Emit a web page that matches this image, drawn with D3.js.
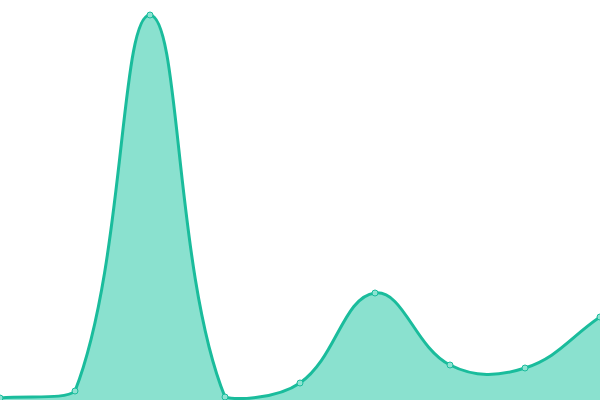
<!DOCTYPE html>
<html>
<head>
<meta charset="utf-8">
<script src="https://cdn.jsdelivr.net/npm/d3@7"></script>
<style>
  body { margin: 0; background: #fff; }
  svg { display: block; }
</style>
</head>
<body>
<div id="chart"></div>
<script>
// data
let labels = ["1", "2", "3", "4", "5", "6", "7", "8", "9"];
let values = [2, 9, 385, 3, 17, 107, 35, 32, 83];

let width = 600,
    height = 400;

let svg = d3.select("#chart")
    .append("svg")
    .attr("width", width)
    .attr("height", height);

// x: points spread edge to edge
let x = d3.scalePoint()
    .domain(labels)
    .range([0, width]);

let y = d3.scaleLinear()
    .domain([0, 400])
    .range([height, 0]);

let pts = labels.map((l, i) => [x(l), y(values[i])]);

// spline like chart.js (tension 0.4), control points kept inside the area
function controlPoints(p) {
    let t = 0.4, out = [];
    for (let i = 0; i < p.length; i++) {
        let prev = p[i - 1] || p[i], cur = p[i], next = p[i + 1] || p[i];
        let d01 = Math.hypot(cur[0] - prev[0], cur[1] - prev[1]);
        let d12 = Math.hypot(next[0] - cur[0], next[1] - cur[1]);
        let s01 = d01 / (d01 + d12) || 0, s12 = d12 / (d01 + d12) || 0;
        let fa = t * s01, fb = t * s12;
        let cap = (v, lo, hi) => Math.max(lo, Math.min(hi, v));
        out.push({
            prev: [cap(cur[0] - fa * (next[0] - prev[0]), 0, width), cap(cur[1] - fa * (next[1] - prev[1]), 0, height)],
            next: [cap(cur[0] + fb * (next[0] - prev[0]), 0, width), cap(cur[1] + fb * (next[1] - prev[1]), 0, height)]
        });
    }
    return out;
}

function splinePath(p, ctx) {
    let cp = controlPoints(p);
    ctx.moveTo(p[0][0], p[0][1]);
    for (let i = 1; i < p.length; i++) {
        ctx.bezierCurveTo(cp[i - 1].next[0], cp[i - 1].next[1], cp[i].prev[0], cp[i].prev[1], p[i][0], p[i][1]);
    }
    return ctx;
}

// area fill
let areaPath = splinePath(pts, d3.path());
areaPath.lineTo(pts[pts.length - 1][0], y(0));
areaPath.lineTo(pts[0][0], y(0));
areaPath.closePath();

svg.append("path")
    .attr("d", areaPath.toString())
    .attr("fill", "#8ae1cf")
    .attr("stroke", "none");

// line on top
svg.append("path")
    .attr("d", splinePath(pts, d3.path()).toString())
    .attr("fill", "none")
    .attr("stroke", "#1abc9c")
    .attr("stroke-width", 3);

// point markers
svg.append("g")
    .selectAll("circle")
    .data(values)
    .enter()
    .append("circle")
    .attr("cx", (d, i) => x(labels[i]))
    .attr("cy", d => y(d))
    .attr("r", 3)
    .attr("fill", "#8ee3d2")
    .attr("stroke", "#1abc9c")
    .attr("stroke-width", 1);
</script>
</body>
</html>
